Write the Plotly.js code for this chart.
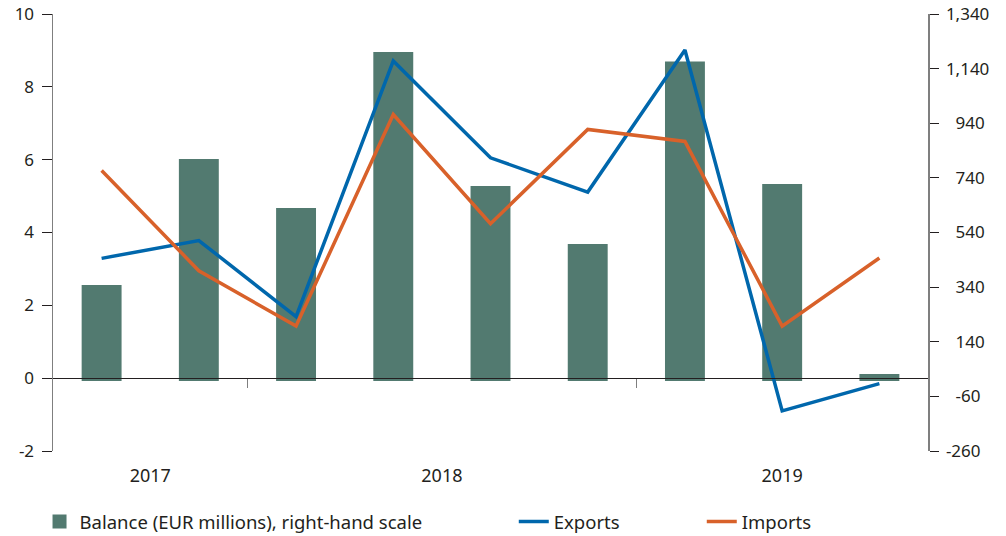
<!DOCTYPE html>
<html>
<head>
<meta charset="utf-8">
<script src="https://cdn.plot.ly/plotly-3.0.1.min.js"></script>
<style>html,body{margin:0;padding:0;background:#fff;}#chart{width:1006px;height:536px;}</style>
</head>
<body>
<div id="chart"></div>
<script>
// Quarterly data: 2017 Q3 .. 2019 Q3
var quarters = ["2017Q3","2017Q4","2018Q1","2018Q2","2018Q3","2018Q4","2019Q1","2019Q2","2019Q3"];
var balance = [344, 805, 626, 1197, 707, 494, 1162, 714, 18];      // EUR millions, right-hand scale
var exportsPct = [3.29, 3.78, 1.69, 8.71, 6.05, 5.11, 9.01, -0.90, -0.15];
var importsPct = [5.70, 2.95, 1.43, 7.24, 4.24, 6.83, 6.50, 1.43, 3.30];
var yearLabels = ["2017", "2018", "2019"];
var yearLabelPos = [0.5, 3.5, 7];      // centre of each year's quarters
var yearBreaks = [1.5, 5.5];           // separators between years
var leftTicks = [-2, 0, 2, 4, 6, 8, 10];
var leftTickText = ["-2", "0", "2", "4", "6", "8", "10"];
var rightTicks = [-260, -60, 140, 340, 540, 740, 940, 1140, 1340];
var rightTickText = ["-260", "\u2007-60", "\u2007140", "\u2007340", "\u2007540", "\u2007740", "\u2007940", "1,140", "1,340"];

var idx = quarters.map(function(q, i){ return i; });

var FONT = "'Noto Sans', 'Open Sans', sans-serif";
var TXT = "#231f20";
var BAR = "#527a70";

var traces = [
  {type: "bar", x: idx, y: balance, yaxis: "y", name: "Balance (EUR millions), right-hand scale",
   marker: {color: BAR, line: {color: BAR, width: 2}}, width: 0.39, legend: "legend"},
  {type: "scatter", mode: "lines", x: idx, y: exportsPct, yaxis: "y2", name: "Exports",
   line: {color: "#0067ac", width: 3.5}, legend: "legend2"},
  {type: "scatter", mode: "lines", x: idx, y: importsPct, yaxis: "y2", name: "Imports",
   line: {color: "#d8612a", width: 3.5}, legend: "legend2"},
  {type: "scatter", mode: "lines", x: [], y: [], xaxis: "x2", yaxis: "y2", showlegend: false, hoverinfo: "skip"}
];

var layout = {
  width: 1006, height: 536,
  margin: {l: 53, r: 78, t: 14, b: 85, autoexpand: false},
  paper_bgcolor: "#fff", plot_bgcolor: "#fff",
  font: {family: FONT, size: 16, color: TXT},
  showlegend: true,
  xaxis: {
    range: [-0.5, 8.5], tickmode: "array", tickvals: yearLabelPos, ticktext: yearLabels,
    ticks: "", showline: false, showgrid: false, zeroline: false,
    ticklabelstandoff: 12, tickfont: {size: 18, color: TXT}
  },
  // zero line of the left scale, with the year separators hanging from it
  xaxis2: {
    overlaying: "x", anchor: "free", position: 2/12, range: [-0.5, 8.5], layer: "above traces",
    tickmode: "array", tickvals: yearBreaks, ticks: "outside", ticklen: 9, tickwidth: 1.5,
    tickcolor: "#7f7f7f", showticklabels: false, showgrid: false, zeroline: false,
    showline: true, linecolor: TXT, linewidth: 1.3
  },
  yaxis: {
    side: "right", range: [-260, 1340], tickmode: "array",
    tickvals: rightTicks, ticktext: rightTickText,
    ticks: "outside", ticklen: 9, tickwidth: 1, tickcolor: TXT,
    showline: true, linecolor: "#7f7f7f", linewidth: 1.5,
    showgrid: false, zeroline: false, tickfont: {size: 17, color: TXT}, ticklabelstandoff: 4
  },
  yaxis2: {
    overlaying: "y", side: "left", range: [-2, 10], tickmode: "array",
    tickvals: leftTicks, ticktext: leftTickText,
    ticks: "outside", ticklen: 10, tickwidth: 1, tickcolor: TXT,
    showline: true, linecolor: "#7f7f7f", linewidth: 1.5,
    showgrid: false, zeroline: false,
    tickfont: {size: 17, color: TXT}, ticklabelstandoff: 4
  },
  legend: {
    orientation: "h", x: -0.0154, xanchor: "left", yref: "container", y: 0.026, yanchor: "middle",
    font: {size: 18.5, color: TXT}, bgcolor: "rgba(0,0,0,0)"
  },
  legend2: {
    orientation: "h", x: 0.5266, xanchor: "left", yref: "container", y: 0.026, yanchor: "middle",
    font: {size: 18.5, color: TXT}, bgcolor: "rgba(0,0,0,0)", entrywidth: 143
  }
};

Plotly.newPlot("chart", traces, layout, {displayModeBar: false, staticPlot: true});
</script>
</body>
</html>
